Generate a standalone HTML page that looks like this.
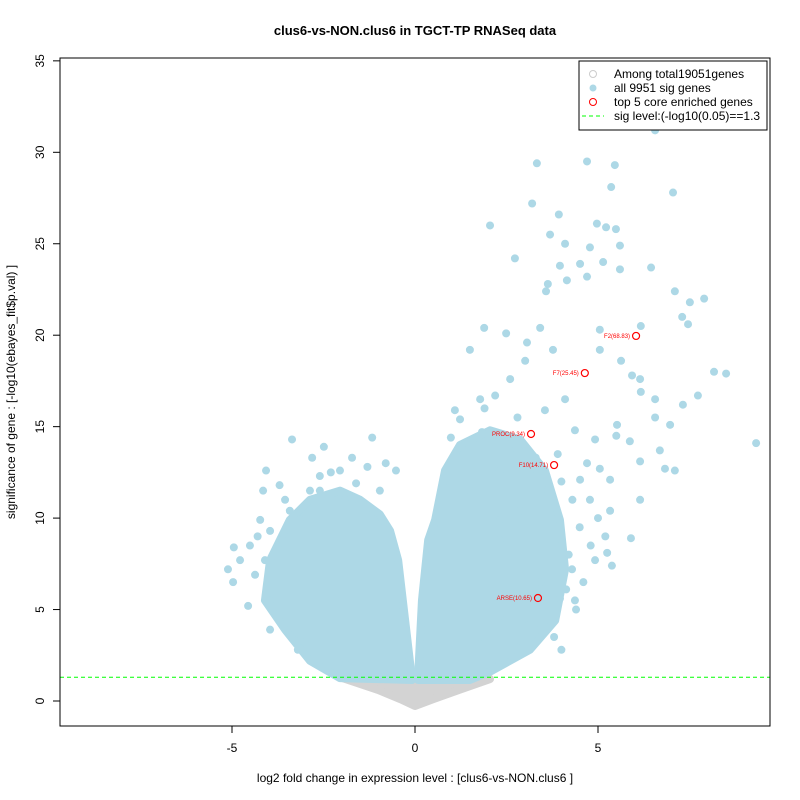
<!DOCTYPE html>
<html><head><meta charset="utf-8"><style>
body{margin:0;background:#fff;}
svg{font-family:"Liberation Sans",sans-serif;display:block;}
</style></head><body>
<svg id="chart" width="800" height="800">
<text x="415" y="35" text-anchor="middle" font-size="13" font-weight="bold">clus6-vs-NON.clus6 in TGCT-TP RNASeq data</text>
<g id="marks"></g>
<rect x="60" y="58" width="710" height="668" fill="none" stroke="#000"/>
<g id="axes" font-size="12"></g>
<text x="415" y="782" text-anchor="middle" font-size="12">log2 fold change in expression level : [clus6-vs-NON.clus6 ]</text>
<text transform="translate(15,392) rotate(-90)" text-anchor="middle" font-size="12">significance of gene : [-log10(ebayes_fit$p.val) ]</text>
<g font-size="12">
<rect x="579" y="61" width="188" height="69" fill="#fff" stroke="#000"/>
<circle cx="593" cy="74" r="3.5" fill="none" stroke="#ccc"/>
<text x="614" y="78">Among total19051genes</text>
<circle cx="593" cy="88" r="3.5" fill="#add8e6"/>
<text x="614" y="92">all 9951 sig genes</text>
<circle cx="593" cy="102" r="3.5" fill="none" stroke="red"/>
<text x="614" y="106">top 5 core enriched genes</text>
<line x1="582" y1="116" x2="604" y2="116" stroke="#0f0" stroke-dasharray="4,3"/>
<text x="614" y="120">sig level:(-log10(0.05)==1.3</text>
</g>
</svg>
<script>
const xTicks=[-5,0,5];
const yTicks=[0,5,10,15,20,25,30,35];
const sigLevel=1.3;
const rightLobeX=[0.08,0.19,0.36,0.55,0.82,1.23,2.05,2.87,3.55,3.96,4.1,3.83,3.14,2.05,1.5];
const rightLobeY=[1.15,5.5,8.8,9.9,12.6,14.0,14.8,14.3,12.6,9.9,7.2,4.4,2.8,1.6,1.15];
const leftLobeX=[-0.08,-0.46,-0.68,-0.96,-1.5,-2.05,-2.87,-3.42,-3.96,-4.1,-3.55,-2.87,-2.05];
const leftLobeY=[1.15,7.7,9.3,10.2,11.0,11.5,11.0,9.9,7.7,5.5,3.9,2.2,1.25];
const greyX=[-2.05,-1.0,-0.4,0,0.5,1.2,2.05];
const greyY=[1.3,0.6,0.1,-0.27,0.1,0.6,1.2];
const sigX=[3.33,4.70,6.56,5.46,5.36,7.05,3.20,3.93,4.97,2.05,5.22,5.49,3.69,4.10,5.60,4.51,5.14,3.96,2.73,4.78,4.70,6.45,5.60,3.63,4.15,3.58,7.10,7.51,7.90,7.30,7.46,6.17,5.05,3.42,3.06,2.49,1.89,1.50,3.77,5.05,5.63,5.93,6.15,6.17,6.56,7.32,7.73,8.17,8.50,9.32,5.52,5.87,6.56,6.97,6.69,6.15,7.10,6.83,5.05,5.33,4.51,4.78,5.33,6.15,5.90,5.25,4.92,5.38,4.29,4.13,3.96,3.42,3.69,4.37,2.87,2.32,1.78,1.23,2.60,3.01,2.19,3.55,4.10,4.37,4.92,2.32,1.50,1.09,0.98,1.83,2.60,3.14,3.63,2.32,2.46,2.87,3.42,1.78,
4.5,4.8,5.0,4.3,4.6,4.0,4.2,3.9,4.7,5.2,5.5,4.4,3.8,4.0,2.3,2.6,3.0,1.9,2.8,3.3,
-3.36,-2.81,-4.07,-2.49,-1.72,-1.17,-2.05,-2.87,-3.55,-4.15,-4.23,-4.51,-4.95,-5.11,-4.97,-4.56,-4.78,-3.96,-3.63,-3.96,-3.96,-3.14,-4.37,-4.10,-3.42,-2.60,-1.61,-0.96,-0.52,-1.91,-3.14,
-2.3,-1.3,-0.8,-2.6,-3.7,-4.3,-3.2,-1.9];
const sigY=[29.4,29.5,31.2,29.3,28.1,27.8,27.2,26.6,26.1,26.0,25.9,25.8,25.5,25.0,24.9,23.9,24.0,23.8,24.2,24.8,23.2,23.7,23.6,22.8,23.0,22.4,22.4,21.8,22.0,21.0,20.6,20.5,20.3,20.4,19.6,20.1,20.4,19.2,19.2,19.2,18.6,17.8,17.6,16.9,16.5,16.2,16.7,18.0,17.9,14.1,15.1,14.2,15.5,15.1,13.7,13.1,12.6,12.7,12.7,12.1,12.1,11.0,10.4,11.0,8.9,8.1,7.7,7.4,7.2,6.1,5.6,6.5,7.7,5.5,10.4,9.9,16.5,15.4,17.6,18.6,16.7,15.9,16.5,14.8,14.3,12.6,11.5,15.9,14.4,14.7,13.7,12.6,11.5,8.8,4.4,3.3,3.9,3.1,
9.5,8.5,10.0,11.0,6.5,12.0,8.0,13.5,13.0,9.0,14.5,5.0,3.5,2.8,2.0,2.5,4.5,16.0,15.5,13.3,
14.3,13.3,12.6,13.9,13.3,14.4,12.6,11.5,11.0,11.5,9.9,8.5,8.4,7.2,6.5,5.2,7.7,9.3,8.8,5.5,3.9,3.3,6.9,7.7,10.4,11.5,11.9,11.5,12.6,11.0,9.9,
12.5,12.8,13.0,12.3,11.8,9.0,2.8,2.0];
const topNames=["F2(68.83)","F7(25.45)","PROC(9.34)","F10(14.71)","ARSE(10.65)"];
const topX=[6.04,4.64,3.17,3.80,3.36];
const topY=[19.96,17.93,14.6,12.9,5.63];

const NS="http://www.w3.org/2000/svg";
const sx=v=>415+v*36.6, sy=v=>701-v*18.29;
const marks=document.getElementById('marks'), axes=document.getElementById('axes');
function mk(tag,attrs,parent){const e=document.createElementNS(NS,tag);for(const k in attrs)e.setAttribute(k,attrs[k]);parent.appendChild(e);return e;}
function poly(xs,ys,fill,name){
  const p=mk('polygon',{points:xs.map((x,i)=>sx(x)+','+sy(ys[i])).join(' '),fill:fill,stroke:fill,'stroke-width':8,'stroke-linejoin':'round'},marks);
  
  
}
poly(greyX,greyY,'#d3d3d3','nonsig-gene-cloud');
poly(rightLobeX,rightLobeY,'#add8e6','sig-gene-cloud-up');
poly(leftLobeX,leftLobeY,'#add8e6','sig-gene-cloud-down');
sigX.forEach((x,i)=>{
  const c=mk('circle',{cx:sx(x),cy:sy(sigY[i]),r:4,fill:'#add8e6'},marks);
  
  
});
const ln=mk('line',{x1:60,x2:770,y1:sy(sigLevel),y2:sy(sigLevel),stroke:'#0f0','stroke-dasharray':'4,3'},marks);


topX.forEach((x,i)=>{
  const c=mk('circle',{cx:sx(x),cy:sy(topY[i]),r:3.5,fill:'none',stroke:'red','stroke-width':1.2},marks);
  
  
  const t=mk('text',{x:sx(x)-6,y:sy(topY[i])+2,'text-anchor':'end','font-size':6,fill:'red'},marks);
  t.textContent=topNames[i];
  
  
});
xTicks.forEach(v=>{
  const l=mk('line',{x1:sx(v),x2:sx(v),y1:726,y2:733,stroke:'#000'},axes);
  
  
  const t=mk('text',{x:sx(v),y:752,'text-anchor':'middle'},axes);
  t.textContent=v;
  
  
});
yTicks.forEach(v=>{
  const l=mk('line',{x1:53,x2:60,y1:sy(v),y2:sy(v),stroke:'#000'},axes);
  
  
  const t=mk('text',{transform:`translate(44,${sy(v)}) rotate(-90)`,'text-anchor':'middle'},axes);
  t.textContent=v;
  
  
});
</script>
</body></html>
